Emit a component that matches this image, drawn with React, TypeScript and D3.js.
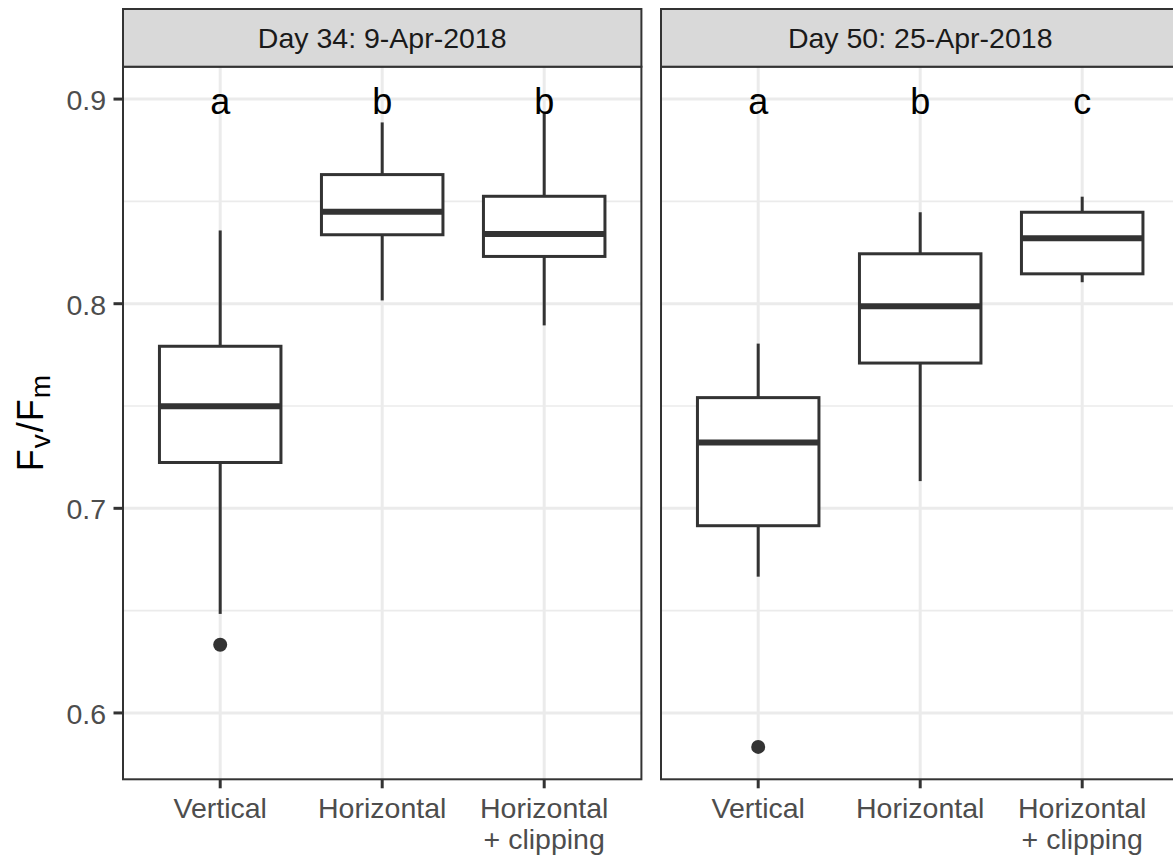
import React from "react";
import * as d3 from "d3";

const WIDTH = 1173;
const HEIGHT = 855;
const FONT = "'Liberation Sans', Arial, Helvetica, sans-serif";

// data
const panels = ["Day 34: 9-Apr-2018", "Day 50: 25-Apr-2018"];
const categories = ["Vertical", "Horizontal", "Horizontal + clipping"];
const categoryLines = [["Vertical"], ["Horizontal"], ["Horizontal", "+ clipping"]];
const yTicks = [0.6, 0.7, 0.8, 0.9];
const yMinorTicks = [0.65, 0.75, 0.85];
const letterY = 0.9;

const day34Letters = ["a", "b", "b"];
const day34Low = [0.6484, 0.8016, 0.7894];
const day34Q1 = [0.7224, 0.8337, 0.8231];
const day34Median = [0.7499, 0.845, 0.8341];
const day34Q3 = [0.7792, 0.8631, 0.8525];
const day34High = [0.8358, 0.8886, 0.8935];
const day34Outliers = [[0.6333], [], []];

const day50Letters = ["a", "b", "c"];
const day50Low = [0.6666, 0.7133, 0.8105];
const day50Q1 = [0.6915, 0.771, 0.8146];
const day50Median = [0.7322, 0.7987, 0.832];
const day50Q3 = [0.7541, 0.8244, 0.8447];
const day50High = [0.7805, 0.8447, 0.8523];
const day50Outliers = [[0.5834], [], []];

const panelData = [
  { title: panels[0], letters: day34Letters, low: day34Low, q1: day34Q1, med: day34Median, q3: day34Q3, high: day34High, out: day34Outliers },
  { title: panels[1], letters: day50Letters, low: day50Low, q1: day50Q1, med: day50Median, q3: day50Q3, high: day50High, out: day50Outliers },
];

// layout
const stripTop = 9;
const plotTop = 66.7;
const plotBottom = 779.3;
const panelLefts = [123, 661];
const panelWidth = 518.4;
const BOX_WIDTH = 0.75;

const allValues = [
  ...day34Low, ...day34High, ...day34Outliers.flat(),
  ...day50Low, ...day50High, ...day50Outliers.flat(), letterY,
];
const [vMin, vMax] = d3.extent(allValues) as [number, number];
const pad = (vMax - vMin) * 0.05;

const yScale = d3
  .scaleLinear()
  .domain([vMin - pad, vMax + pad])
  .range([plotBottom, plotTop]);

function Panel({ p, left }: { p: typeof panelData[0]; left: number }) {
  const xScale = d3
    .scalePoint<string>()
    .domain(categories)
    .range([left, left + panelWidth])
    .padding(0.6);
  const bw = xScale.step() * BOX_WIDTH;
  const right = left + panelWidth;

  return (
    <g>
      {/* background + grid */}
      <rect x={left} y={plotTop} width={panelWidth} height={plotBottom - plotTop} fill="#fff" />
      {yMinorTicks.map((t) => (
        <line key={"mi" + t} x1={left} x2={right} y1={yScale(t)} y2={yScale(t)} stroke="#EBEBEB" strokeWidth={1.6} />
      ))}
      {yTicks.map((t) => (
        <line key={"ma" + t} x1={left} x2={right} y1={yScale(t)} y2={yScale(t)} stroke="#EBEBEB" strokeWidth={3} />
      ))}
      {categories.map((c) => (
        <line key={"vx" + c} x1={xScale(c)} x2={xScale(c)} y1={plotTop} y2={plotBottom} stroke="#EBEBEB" strokeWidth={3} />
      ))}

      {/* boxplots */}
      {categories.map((c, i) => {
        const cx = xScale(c) as number;
        return (
          <g key={"box" + c} stroke="#333333" fill="none">
            <line x1={cx} x2={cx} y1={yScale(p.high[i])} y2={yScale(p.q3[i])} strokeWidth={3} />
            <line x1={cx} x2={cx} y1={yScale(p.q1[i])} y2={yScale(p.low[i])} strokeWidth={3} />
            <rect
              x={cx - bw / 2}
              y={yScale(p.q3[i])}
              width={bw}
              height={yScale(p.q1[i]) - yScale(p.q3[i])}
              fill="#fff"
              strokeWidth={3}
            />
            <line x1={cx - bw / 2} x2={cx + bw / 2} y1={yScale(p.med[i])} y2={yScale(p.med[i])} strokeWidth={6} />
            {p.out[i].map((o, j) => (
              <circle key={j} cx={cx} cy={yScale(o)} r={7} fill="#333333" stroke="none" />
            ))}
          </g>
        );
      })}

      {/* significance letters */}
      {categories.map((c, i) => (
        <text
          key={"let" + c}
          x={xScale(c)}
          y={yScale(letterY) + 14.5}
          textAnchor="middle"
          fontFamily={FONT}
          fontSize={36}
          fill="#000"
        >
          {p.letters[i]}
        </text>
      ))}

      {/* border */}
      <rect x={left} y={plotTop} width={panelWidth} height={plotBottom - plotTop} fill="none" stroke="#333333" strokeWidth={2} />

      {/* strip */}
      <rect x={left} y={stripTop} width={panelWidth} height={plotTop - stripTop} fill="#D9D9D9" stroke="#333333" strokeWidth={2} />
      <text
        x={left + panelWidth / 2}
        y={48}
        textAnchor="middle"
        fontFamily={FONT}
        fontSize={28.5}
        fill="#1A1A1A"
      >
        {p.title}
      </text>

      {/* x axis */}
      {categories.map((c, i) => (
        <g key={"xt" + c}>
          <line x1={xScale(c)} x2={xScale(c)} y1={plotBottom} y2={plotBottom + 9} stroke="#333333" strokeWidth={3} />
          {categoryLines[i].map((ln, k) => (
            <text
              key={k}
              x={xScale(c)}
              y={818 + k * 31}
              textAnchor="middle"
              fontFamily={FONT}
              fontSize={28.5}
              fill="#4D4D4D"
            >
              {ln}
            </text>
          ))}
        </g>
      ))}
    </g>
  );
}

export default function App() {
  const left = panelLefts[0];
  return (
    <svg
      width={WIDTH}
      height={HEIGHT}
      style={{ position: "absolute", left: 0, top: 0, display: "block", background: "#fff" }}
    >
      <rect width={WIDTH} height={HEIGHT} fill="#fff" />
      {panelData.map((p, i) => (
        <Panel key={p.title} p={p} left={panelLefts[i]} />
      ))}

      {/* y axis */}
      {yTicks.map((t) => (
        <g key={"yt" + t}>
          <line x1={left - 9.5} x2={left} y1={yScale(t)} y2={yScale(t)} stroke="#333333" strokeWidth={3} />
          <text
            x={106}
            y={yScale(t) + 11}
            textAnchor="end"
            fontFamily={FONT}
            fontSize={28.5}
            fill="#4D4D4D"
          >
            {d3.format(".1f")(t)}
          </text>
        </g>
      ))}

      {/* y title */}
      <text
        transform={`translate(43, ${(plotTop + plotBottom) / 2}) rotate(-90)`}
        textAnchor="middle"
        fontFamily={FONT}
        fontSize={36}
        fill="#000"
      >
        <tspan>F</tspan>
        <tspan fontSize={28} dy={7} dx={1}>v</tspan>
        <tspan dy={-7} dx={2}>/</tspan>
        <tspan dx={1}>F</tspan>
        <tspan fontSize={28} dy={7} dx={1}>m</tspan>
      </text>
    </svg>
  );
}
